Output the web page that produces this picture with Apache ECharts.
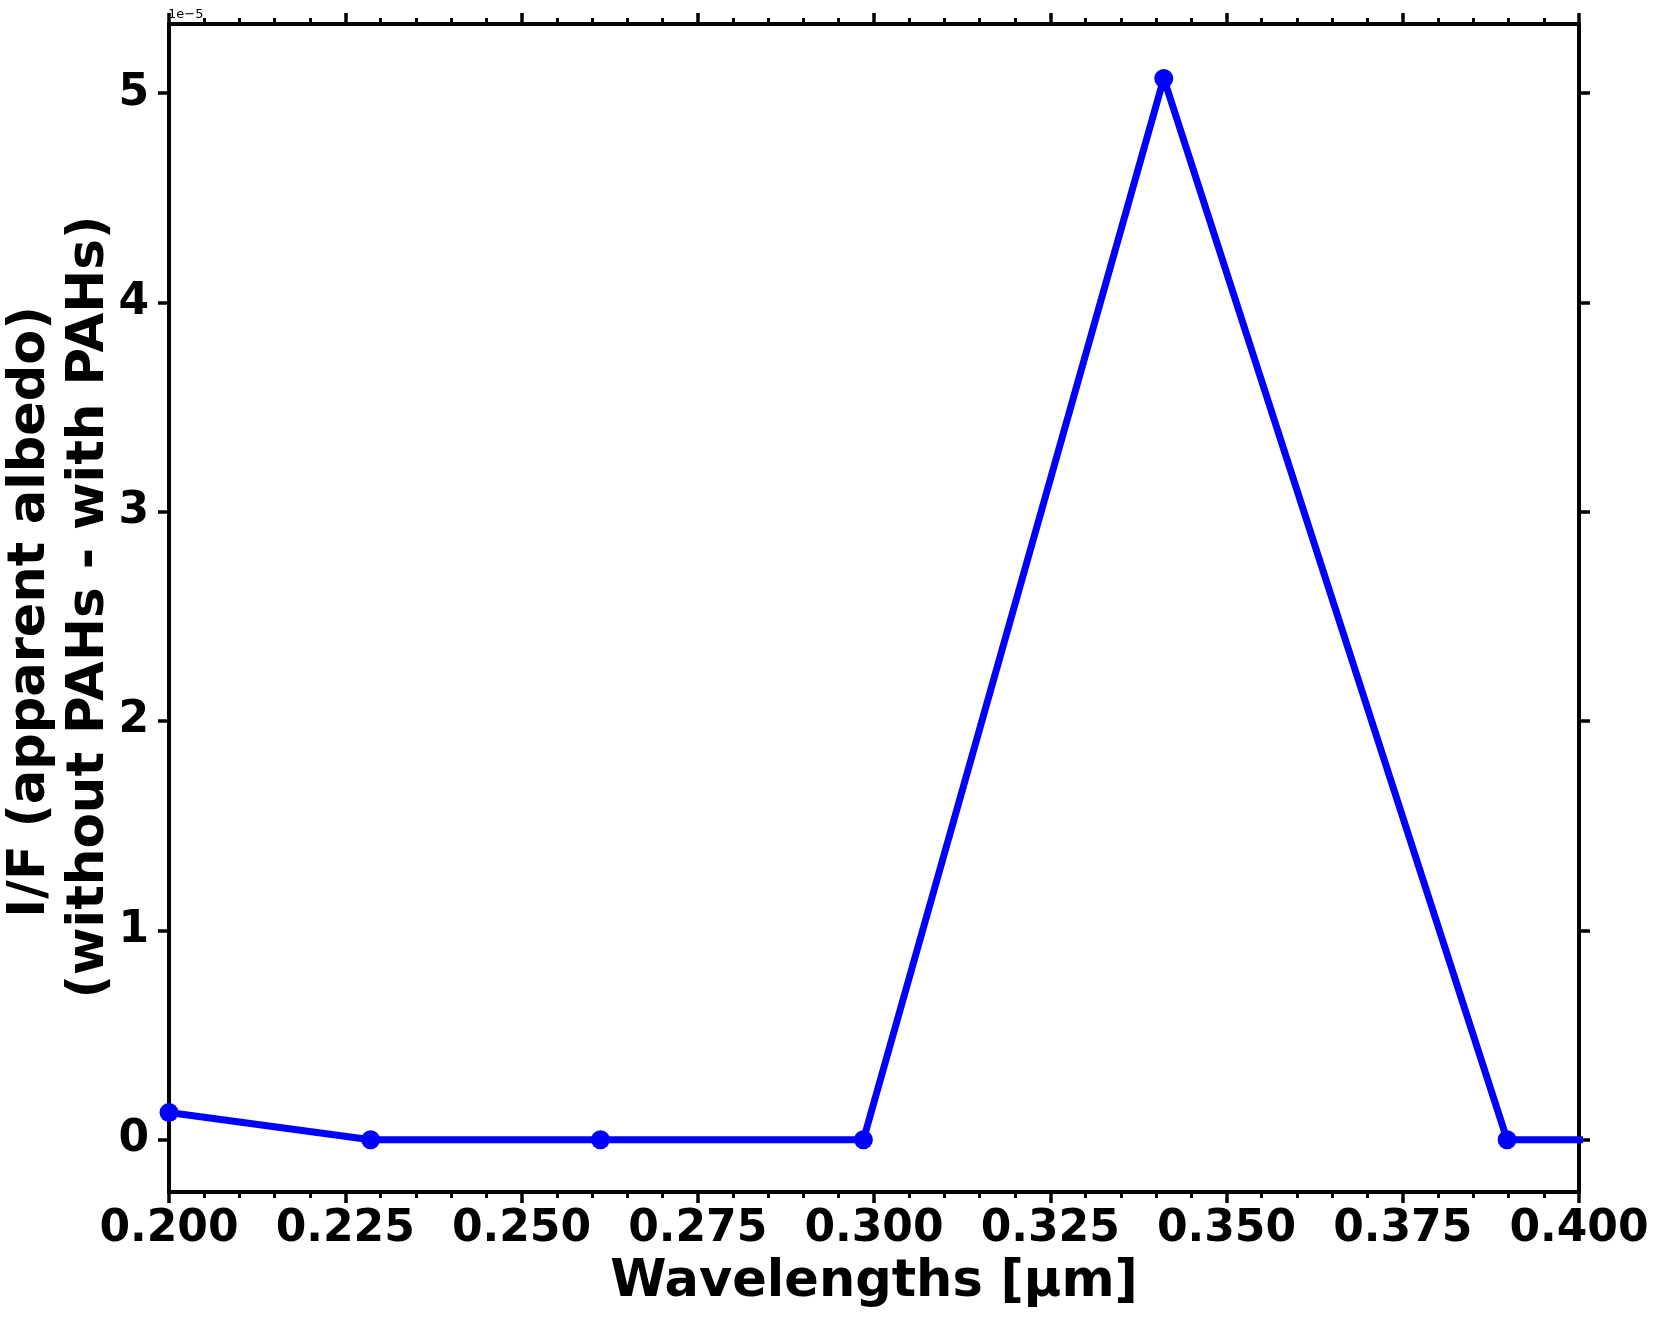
<!DOCTYPE html>
<html>
<head>
<meta charset="utf-8">
<script src="https://cdn.jsdelivr.net/npm/echarts@6/dist/echarts.min.js"></script>
<style>
    html, body { margin: 0; padding: 0; background: #fff; }
    #chart { width: 1661px; height: 1319px; }
</style>
</head>
<body>
<div id="chart"></div>
<script>
    // wavelengths (µm) and I/F difference, in units of 1e-5
    var wavelengths = [0.2, 0.2286, 0.2612, 0.2985, 0.3411, 0.3898, 0.4455];
    var diffValues = [0.13, 0.0, 0.0, 0.0, 5.07, 0.0, 0.0];
    var yTicks = [0, 1, 2, 3, 4, 5];

    var font = 'DejaVu Sans';
    var chart = echarts.init(document.getElementById('chart'));

    var points = wavelengths.map(function (w, i) { return [w, diffValues[i]]; });

    // x axis shared settings (bottom one shows labels, top one only ticks)
    function xAxisBase(pos, showLabel) {
        return {
            type: 'value',
            position: pos,
            min: 0.2,
            max: 0.4,
            interval: 0.025,
            axisLine: { show: true, onZero: false, lineStyle: { color: '#000', width: 4 } },
            axisTick: { show: true, inside: false, length: 11, lineStyle: { color: '#000', width: 3.5 } },
            minorTick: { show: true, splitNumber: 5, length: 6, lineStyle: { color: '#000', width: 3 } },
            splitLine: { show: false },
            minorSplitLine: { show: false },
            axisLabel: {
                show: showLabel,
                margin: 16,
                color: '#000',
                fontFamily: font,
                fontWeight: 'bold',
                fontSize: 44,
                formatter: function (v) { return v.toFixed(3); }
            }
        };
    }

    var bottomX = xAxisBase('bottom', true);
    bottomX.name = 'Wavelengths [µm]';
    bottomX.nameLocation = 'middle';
    bottomX.nameGap = 64;
    bottomX.nameTextStyle = { color: '#000', fontFamily: font, fontWeight: 'bold', fontSize: 51 };
    var topX = xAxisBase('top', false);

    function yAxisBase(pos, showLabel) {
        return {
            type: 'value',
            position: pos,
            min: -0.25,
            max: 5.33,
            axisLine: { show: true, onZero: false, lineStyle: { color: '#000', width: 4 } },
            axisTick: { show: true, inside: false, length: 11, customValues: yTicks, lineStyle: { color: '#000', width: 3.5 } },
            splitLine: { show: false },
            axisLabel: {
                show: showLabel,
                customValues: yTicks,
                margin: 20,
                color: '#000',
                fontFamily: font,
                fontWeight: 'bold',
                fontSize: 44
            }
        };
    }

    chart.setOption({
        backgroundColor: '#fff',
        animation: false,
        grid: { left: 169, right: 82, top: 24, bottom: 127, containLabel: false, outerBoundsMode: 'none' },
        xAxis: [bottomX, topX],
        yAxis: [yAxisBase('left', true), yAxisBase('right', false)],
        graphic: [
            {
                type: 'text', x: 31, y: 612, rotation: Math.PI / 2,
                style: {
                    text: 'I/F (apparent albedo)', fill: '#000',
                    font: 'bold 51px "DejaVu Sans"', textAlign: 'center', textVerticalAlign: 'middle'
                }
            },
            {
                type: 'text', x: 90, y: 607, rotation: Math.PI / 2,
                style: {
                    text: '(without PAHs - with PAHs)', fill: '#000',
                    font: 'bold 51.5px "DejaVu Sans"', textAlign: 'center', textVerticalAlign: 'middle'
                }
            },
            {
                type: 'text', x: 168, y: 8,
                style: { text: '1e\u22125', fill: '#000', font: '13px "DejaVu Sans"' }
            }
        ],
        series: [
            {
                type: 'line',
                xAxisIndex: 0,
                yAxisIndex: 0,
                data: points,
                clip: true,
                symbol: 'circle',
                symbolSize: 19,
                showAllSymbol: true,
                lineStyle: { color: '#0000ff', width: 7 },
                itemStyle: { color: '#0000ff' }
            }
        ]
    });
</script>
</body>
</html>
